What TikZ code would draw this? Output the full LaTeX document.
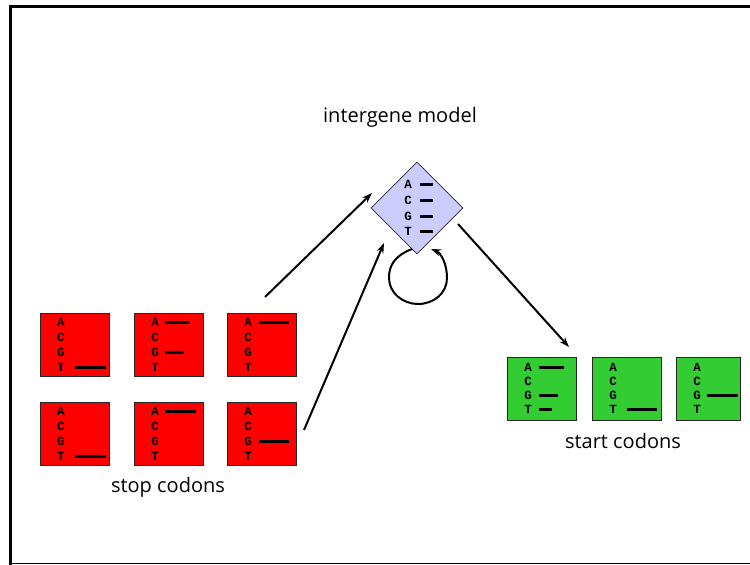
\documentclass[tikz,border=0pt]{standalone}
\usepackage{fontspec}
\setmainfont{Open Sans}
\newfontfamily\basefont{Liberation Mono}[BoldFont={Liberation Mono Bold}]
\usetikzlibrary{arrows.meta,shapes.geometric,calc}
\definecolor{stopred}{RGB}{255,0,0}
\definecolor{startgreen}{RGB}{51,204,51}
\definecolor{modelblue}{RGB}{204,204,255}
\tikzset{
  codonbox/.style={draw=black!85, line width=1pt, minimum width=69pt, minimum height=63pt, inner sep=0pt, anchor=north west},
  base/.style={font=\basefont\bfseries\fontsize{12.5}{12.5}\selectfont, inner sep=0pt},
  weightbar/.style={line width=3pt, black},
  flow/.style={line width=2pt, -{Stealth[length=10pt,width=7pt]}},
  caption/.style={font=\fontsize{20}{20}\selectfont, inner sep=0pt}
}
% \codon{name}{left}{top}{fill}{row step}{first row offset}
\newcommand\codon[6]{%
  \node[codonbox, fill=#4] (#1) at (#2,#3) {};
  \foreach \b [count=\i from 0] in {A,C,G,T}
    \node[base] (#1-\b) at ($(#1.north west)+(21,#6+\i*#5)$) {\b};
}
% \wbar{box}{base}{from}{to}
\newcommand\wbar[4]{%
  \draw[weightbar] ($(#1.west |- #1-#2)+(#3,0)$) -- ($(#1.west |- #1-#2)+(#4,0)$);
}
\begin{document}
\begin{tikzpicture}[x=1pt,y=-1pt]
  \useasboundingbox (0,0) rectangle (750,565);
  % page frame
  \draw[line width=2.5pt] (10.5,565) -- (10.5,6.5) -- (750,6.5);
  \draw[line width=1pt] (10.5,563.5) -- (750,563.5);

  % intergene model
  \node[diamond, draw=black!85, fill=modelblue, line width=0.8pt, minimum width=92pt, minimum height=92pt, inner sep=0pt] (model) at (417,208) {};
  \foreach \b/\dy in {A/-24,C/-8,G/8,T/23}
    \node[base] (model-\b) at ($(model.center)+(-9,\dy)$) {\b};
  \foreach \b in {A,C,G,T}
    \draw[weightbar] ($(model-\b)+(12,0)$) -- ($(model-\b)+(25,0)$);
  \node[caption] (modeltitle) at (400,117) {intergene model};

  % stop codons
  \codon{s1}{40}{313}{stopred}{15}{9.5}
  \codon{s2}{134}{313}{stopred}{15}{9.5}
  \codon{s3}{227}{313}{stopred}{15}{9.5}
  \codon{s4}{40}{402}{stopred}{15}{9.5}
  \codon{s5}{134}{402}{stopred}{15}{9.5}
  \codon{s6}{227}{402}{stopred}{15}{9.5}
  \wbar{s1}{T}{35}{66}
  \wbar{s2}{A}{31}{56}
  \wbar{s2}{G}{31}{50}
  \wbar{s3}{A}{32}{62}
  \wbar{s4}{T}{35}{66}
  \wbar{s5}{A}{31}{62}
  \wbar{s6}{G}{32}{62}
  \node[caption] (stoptitle) at (168,487) {stop codons};

  % start codons
  \codon{g1}{507}{357}{startgreen}{14}{10}
  \codon{g2}{592}{357}{startgreen}{14}{10}
  \begin{scope}[codonbox/.append style={minimum width=64pt}]
    \codon{g3}{676}{357}{startgreen}{14}{10}
  \end{scope}
  \wbar{g1}{A}{32}{57}
  \wbar{g1}{G}{32}{51}
  \wbar{g1}{T}{32}{45}
  \wbar{g2}{T}{35}{65}
  \wbar{g3}{G}{31}{62}
  \node[caption] (starttitle) at (623,441) {start codons};

  % transitions
  \coordinate (upperfrom) at ($(s3.north)+(3,-16)$);
  \coordinate (upperto) at (372,193);
  \coordinate (lowerfrom) at ($(s6.east)+(7,-4)$);
  \coordinate (lowerto) at (384,243);
  \coordinate (outfrom) at (458,224);
  \coordinate (outto) at ($(g1.north)+(27,-10)$);
  \coordinate (loopfrom) at (412,249);
  \coordinate (loopto) at (431,249);
  \draw[flow] (upperfrom) -- (upperto);
  \draw[flow] (lowerfrom) -- (lowerto);
  \draw[flow] (outfrom) -- (outto);
  \draw[flow] (loopfrom) .. controls (394,256) and (389,266) .. (389,278)
    .. controls (389,293) and (403,304) .. (418,304)
    .. controls (434,304) and (447,293) .. (447,278)
    .. controls (447,264) and (441,253) .. (loopto);
\end{tikzpicture}
\end{document}
